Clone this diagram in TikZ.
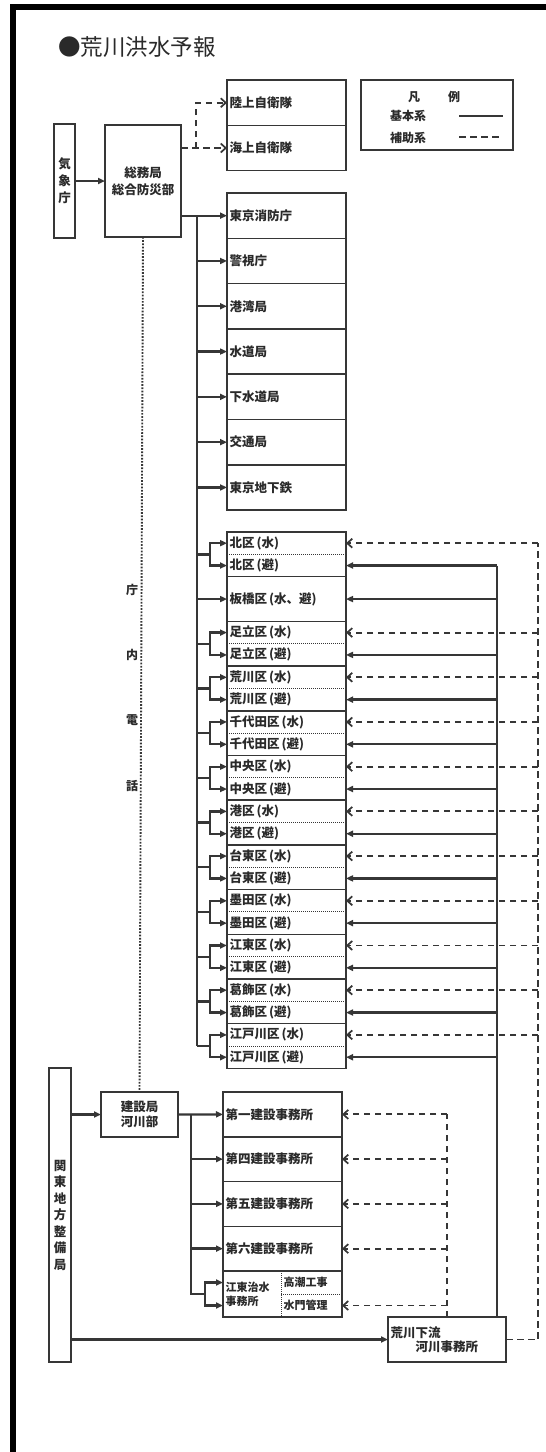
\documentclass[tikz,border=0pt]{standalone}
\usepackage{fontspec}
\setmainfont{Noto Sans CJK JP}
\usetikzlibrary{arrows.meta,calc}
\definecolor{lc}{HTML}{363636}
\definecolor{tc}{HTML}{2A2A2A}
\begin{document}
\begin{tikzpicture}[x=1pt,y=-1pt,
 bf/.style={font=\bfseries\fontsize{12.5}{15}\selectfont, text=tc},
 box/.style={draw=lc, line width=1.5pt, inner sep=0pt, outer sep=0pt, bf},
 lbox/.style={box, text width=#1, align=left, inner xsep=2.5pt},
 thickbox/.style={box, line width=2.8pt},
 whalf/.style={inner sep=0pt, inner xsep=2.5pt, outer sep=0pt, text width=114pt, align=left, minimum height=22.35pt, bf},
 cell/.style={inner sep=0pt, inner xsep=2.5pt, outer sep=0pt, align=left, font=\bfseries\fontsize{11}{14}\selectfont, text=tc, anchor=north west},
 boxline/.style={draw=lc, line width=1.5pt},
 divline/.style={draw=lc, line width=1pt, dash pattern=on 1pt off 1pt},
 sline/.style={draw=lc, line width=2.3pt},
 arr/.style={sline, -{Triangle[length=7pt,width=6pt]}},
 dline/.style={draw=lc, line width=1.9pt, dash pattern=on 6.5pt off 4.5pt},
 darr/.style={dline, -{Straight Barb[length=5pt,width=9pt,line width=1.7pt]}},
 telline/.style={draw=lc, line width=1.9pt, dash pattern=on 1.7pt off 1.5pt},
 lgtext/.style={font=\bfseries\fontsize{12}{14}\selectfont, text=tc, inner sep=0pt}
]
\useasboundingbox (0,0) rectangle (546,1452);
\fill[white] (0,0) rectangle (546,1452);
% frame
\fill[black] (10,4) rectangle (15.5,1452);
\fill[black] (10,4) rectangle (546,10);

% title
\node[anchor=west, font=\fontsize{22.5}{27}\selectfont, text=tc, inner sep=0pt] (title) at (58,47) {●荒川洪水予報};

% legend
\node[thickbox, minimum width=152pt, minimum height=70pt, anchor=north west] (legend) at (361,80) {};
\node[lgtext] (lgA) at (414,97) {凡};
\node[lgtext] (lgB) at (454,97) {例};
\node[lgtext] (lgC) at (408,116) {基本系};
\node[lgtext] (lgD) at (408,138) {補助系};
\coordinate (lgS1) at (459,116); \coordinate (lgS2) at (503,116);
\coordinate (lgD1) at (459,137); \coordinate (lgD2) at (503,137);
\draw[sline] (lgS1) -- (lgS2);
\draw[dline] (lgD1) -- (lgD2);

% top-left boxes
\node[thickbox, minimum width=21pt, minimum height=114pt, anchor=north west, align=center, font=\bfseries\fontsize{12.5}{17}\selectfont] (kisho) at (54,124) {気\\象\\庁};
\node[box, minimum width=76pt, minimum height=112pt, anchor=north west, align=center, font=\bfseries\fontsize{12.5}{17}\selectfont] (somu) at (105,125) {総務局\\総合防災部};
\draw[arr] (kisho.east) -- (somu.west);

\node[lbox=114pt, minimum height=45.5pt, anchor=north west] (rikujo) at (227,80) {陸上自衛隊};
\node[lbox=114pt, minimum height=45pt, anchor=north west] (kaijo) at (rikujo.south west) {海上自衛隊};
\coordinate (db) at (196,0);
\draw[darr] (somu.east |- kaijo.west) -- (kaijo.west);
\draw[darr] (db |- kaijo.west) |- (rikujo.west);

% Tokyo agencies
\foreach \i/\n in {1/東京消防庁,2/警視庁,3/港湾局,4/水道局,5/下水道局,6/交通局,7/東京地下鉄}{
  \pgfmathsetmacro\t{193+(\i-1)*45.3}
  \node[lbox=114pt, minimum height=45.3pt, anchor=north west] (tk\i) at (227,\t) {\n};
}
\coordinate (trunk) at (197,0);
\coordinate (fork) at (210,0);
\coordinate (rs) at (497,0);
\coordinate (ds) at (538,0);

% wards
\node[lbox=114pt, minimum height=44.7pt, anchor=north west] (w1) at (227,576.7) {板橋区\hspace{2pt}(水、避)};
\foreach \i/\n in {0/北区,2/足立区,3/荒川区,4/千代田区,5/中央区,6/港区,7/台東区,8/墨田区,9/江東区,10/葛飾区,11/江戸川区}{
  \pgfmathsetmacro\t{532+\i*44.7}
  \node[whalf, anchor=north west] (w\i a) at (227,\t) {\n\hspace{2pt}(水)};
  \node[whalf, anchor=north west] (w\i b) at (w\i a.south west) {\n\hspace{2pt}(避)};
  \draw[boxline] (w\i a.north west) rectangle (w\i b.south east);
  \draw[divline] (w\i a.south west) -- (w\i a.south east);
  \draw[sline] (trunk |- w\i a.south west) -- (fork |- w\i a.south west) coordinate (f\i);
  \draw[arr] (f\i) |- (w\i a.west);
  \draw[arr] (f\i) |- (w\i b.west);
  \draw[arr] (rs |- w\i b.east) -- (w\i b.east);
  \draw[darr] (ds |- w\i a.east) -- (w\i a.east);
}

% left trunk
\draw[arr] (somu.east |- tk1.west) -- (tk1.west);
\foreach \i in {2,...,7}{ \draw[arr] (trunk |- tk\i.west) -- (tk\i.west); }
\draw[sline] (trunk |- tk1.west) -- (trunk |- w11a.south west);
\draw[arr] (trunk |- w1.west) -- (w1.west);

% lower part
\node[thickbox, minimum width=22pt, minimum height=294pt, anchor=north west, align=center, font=\bfseries\fontsize{12.5}{16.5}\selectfont] (kanto) at (49,1068) {関\\東\\地\\方\\整\\備\\局};
\node[box, minimum width=77pt, minimum height=45pt, anchor=north west, align=center, font=\bfseries\fontsize{12.5}{15}\selectfont] (kensetsu) at (101,1092) {建設局\\河川部};
\foreach \i/\n in {1/第一建設事務所,2/第四建設事務所,3/第五建設事務所,4/第六建設事務所}{
  \pgfmathsetmacro\t{1092+(\i-1)*44.75}
  \node[lbox=114pt, minimum height=44.75pt, anchor=north west] (k\i) at (223,\t) {\n};
}
\node[cell, text width=53pt, minimum height=46pt] (kotoL) at (223,1271) {江東治水\\事務所};
\node[cell, text width=56pt, minimum height=23pt] (takashio) at (281,1271) {高潮工事};
\node[cell, text width=56pt, minimum height=23pt] (suimon) at (takashio.south west) {水門管理};
\draw[boxline] (kotoL.north west) rectangle (suimon.south east);
\draw[divline] (kotoL.north east) -- (kotoL.south east);
\draw[divline] (takashio.south west) -- (takashio.south east);

\node[lbox=113pt, minimum height=45pt, anchor=north west, font=\bfseries\fontsize{12.5}{14}\selectfont] (ara) at (388,1317) {荒川下流\\\hspace*{25pt}河川事務所};

% telephone dotted line
\draw[telline] (somu.south) -- (kensetsu.north);
\foreach \n/\y in {庁/590,内/655,電/720,話/786}{
  \node[lgtext] (tel\n) at (132,\y) {\n};
}

% construction connectors
\coordinate (ct) at (191,0);
\coordinate (cf) at (205,0);
\draw[arr] (kanto.east |- kensetsu.west) -- (kensetsu.west);
\draw[arr] (kensetsu.east) -- (k1.west);
\foreach \i in {2,3,4}{ \draw[arr] (ct |- k\i.west) -- (k\i.west); }
\draw[sline] (ct |- k1.west) -- (ct |- kotoL.west) -- (cf |- kotoL.west) coordinate (kf);
\draw[arr] (kf) |- (kotoL.west |- takashio.west);
\draw[arr] (kf) |- (kotoL.west |- suimon.west);
\draw[arr] (kanto.east |- ara.west) -- (ara.west);

% right trunks
\draw[sline] (rs |- w0b.east) -- (rs |- ara.north);
\draw[arr] (rs |- w1.east) -- (w1.east);
\draw[dline] (ara.east) -| (ds |- w0a.east);
\draw[dline] (ara.north) -- (ara.north |- k1.east);
\foreach \i in {1,2,3,4}{ \draw[darr] (ara.north |- k\i.east) -- (k\i.east); }
\draw[darr] (ara.north |- suimon.east) -- (suimon.east);
\end{tikzpicture}
\end{document}
